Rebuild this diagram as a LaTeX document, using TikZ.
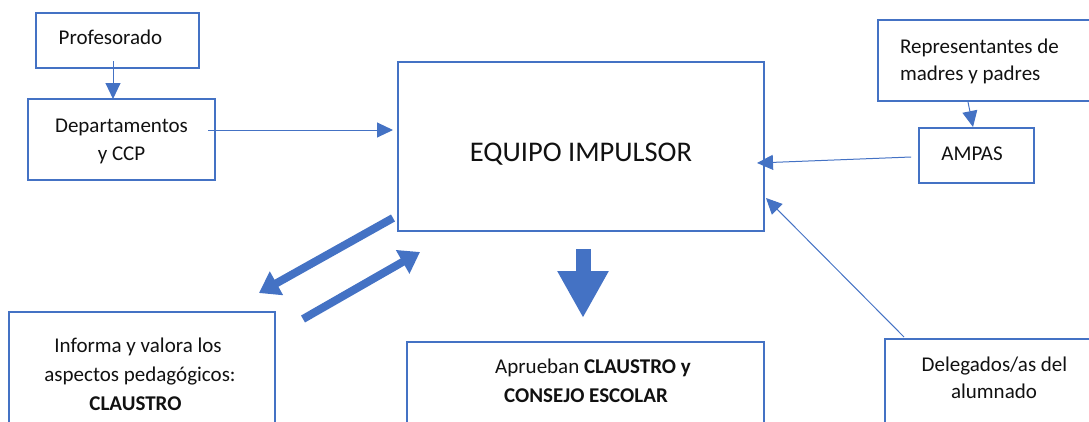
\documentclass[tikz,border=0pt]{standalone}
\usepackage{fontspec}
\setmainfont{Carlito}
\usetikzlibrary{arrows.meta}
\definecolor{ublue}{HTML}{4472C4}
\definecolor{utext}{HTML}{111111}
\tikzset{
  box/.style={draw=ublue, line width=2.9pt, inner sep=0pt, outer sep=0pt, fill=none},
  lbl/.style={inner sep=0pt, outer sep=0pt, anchor=base, text=utext, font=\fontsize{21}{28}\selectfont},
  thinarrow/.style={draw=ublue, line width=1pt, -{Triangle[length=16pt,width=15pt]}},
  thickarrow/.style={draw=ublue, line width=8pt, line cap=butt, -{Triangle[length=20pt,width=26pt]}},
  bigarrow/.style={draw=ublue, line width=15pt, line cap=butt, -{Triangle[length=47pt,width=48pt]}}
}
\begin{document}
\begin{tikzpicture}[x=1pt,y=-1pt]
\useasboundingbox (0,0) rectangle (1089,421);
\clip (0,0) rectangle (1089,421);
% boxes
\node[box, minimum width=163pt, minimum height=55pt] (prof) at (117.5,40.5) {};
\node[box, minimum width=187pt, minimum height=81pt] (dept) at (121.5,139.5) {};
\node[box, minimum width=366pt, minimum height=169pt] (equipo) at (581,146.5) {};
\node[box, minimum width=242pt, minimum height=81pt] (rep) at (999,60.5) {};
\node[box, minimum width=115pt, minimum height=55pt] (ampas) at (976.5,155.5) {};
\node[box, minimum width=235pt, minimum height=111pt] (deleg) at (1002.5,394.5) {};
\node[box, minimum width=266pt, minimum height=138pt] (informa) at (142,381) {};
\node[box, minimum width=357pt, minimum height=108pt] (aprueban) at (585.5,396) {};
% texts
\node[lbl] (tprof) at (110.5,44) {Profesorado};
\node[lbl] (tdept1) at (121.5,132) {Departamentos};
\node[lbl] (tdept2) at (121.5,160) {y CCP};
\node[lbl, font=\fontsize{28.5}{34}\selectfont] (tequipo) at (581,161) {EQUIPO IMPULSOR};
\node[lbl, anchor=base west] (trep1) at (900,53) {Representantes de};
\node[lbl, anchor=base west] (trep2) at (900,80) {madres y padres};
\node[lbl] (tampas) at (972,160) {AMPAS};
\node[lbl] (tdeleg1) at (994.5,371) {Delegados/as del};
\node[lbl] (tdeleg2) at (994,398) {alumnado};
\node[lbl] (tinf1) at (138,352) {Informa y valora los};
\node[lbl] (tinf2) at (140,381) {aspectos pedagógicos:};
\node[lbl] (tinf3) at (135.5,410) {\bfseries CLAUSTRO};
\node[lbl] (tapr1) at (593,373) {Aprueban \textbf{CLAUSTRO y}};
\node[lbl] (tapr2) at (586,402) {\bfseries CONSEJO ESCOLAR};
% thin connectors
\draw[thinarrow] ([xshift=-4.5pt,yshift=7pt]prof.south) -- ([xshift=-8.5pt]dept.north);
\draw[thinarrow] ([xshift=-7pt,yshift=9.5pt]dept.east) -- ([xshift=-5pt,yshift=16.5pt]equipo.west);
\draw[thinarrow] ([xshift=90pt,yshift=-1pt]rep.south west) -- ([xshift=-3.5pt,yshift=1pt]ampas.north);
\draw[thinarrow] ([xshift=-8pt,yshift=-1.5pt]ampas.west) -- ([xshift=-7pt,yshift=-16.5pt]equipo.east);
\draw[thinarrow] ([xshift=19pt,yshift=2pt]deleg.north west) -- ([xshift=2pt,yshift=33pt]equipo.south east);
% thick connectors
\draw[thickarrow] ([xshift=-5pt,yshift=-71.5pt]equipo.west) -- ([xshift=-16pt,yshift=19pt]informa.north east);
\draw[thickarrow] ([xshift=28pt,yshift=-7pt]informa.north east) -- ([xshift=22pt,yshift=-21pt]equipo.south west);
\draw[bigarrow] ([xshift=2pt,yshift=-18pt]equipo.south) -- ([xshift=-2.5pt,yshift=24pt]aprueban.north);
\end{tikzpicture}
\end{document}
